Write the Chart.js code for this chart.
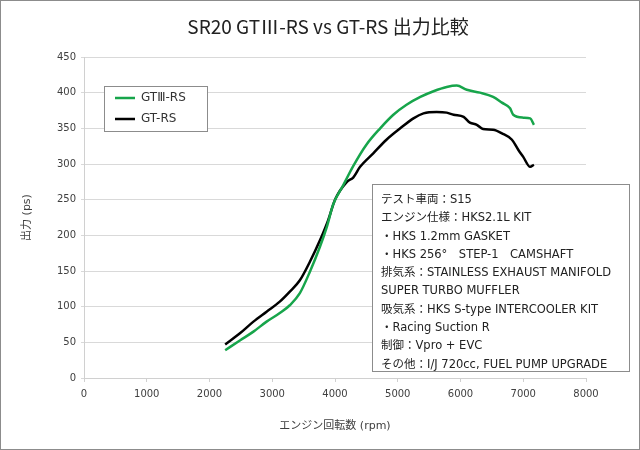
<!DOCTYPE html>
<html>
<head>
<meta charset="utf-8">
<script src="https://cdn.jsdelivr.net/npm/chart.js@4/dist/chart.umd.min.js"></script>
<style>
  html, body { margin: 0; padding: 0; background: #fff; }
  canvas { display: block; }
</style>
</head>
<body>
<canvas id="powerChart" width="640" height="450"></canvas>
<script>
// Readings taken off the dyno sheet (rpm / ps)
const rpmGT3 = [2250, 2490, 2700, 2910, 3120, 3280, 3440, 3600, 3760, 3870, 3970, 4130, 4290, 4500, 4720, 4930, 5140, 5360, 5570, 5780, 5940, 6100, 6310, 6520, 6660, 6790, 6840, 7000, 7110, 7170];
const psGT3  = [39, 53, 65, 79, 91, 102, 119, 149, 184, 212, 243, 270, 297, 327, 350, 369, 383, 394, 402, 408, 410, 404, 400, 394, 386, 378, 369, 365, 364, 355];

const rpmGT = [2250, 2490, 2700, 2910, 3120, 3280, 3440, 3600, 3760, 3890, 4000, 4190, 4290, 4400, 4610, 4820, 5040, 5250, 5410, 5620, 5780, 5890, 6050, 6150, 6260, 6360, 6520, 6660, 6820, 6920, 7000, 7110, 7170];
const psGT  = [47, 63, 79, 93, 107, 121, 137, 163, 193, 221, 250, 275, 281, 296, 315, 334, 350, 364, 371, 373, 372, 369, 366, 358, 355, 349, 348, 343, 334, 320, 310, 296, 299];

const seriesNames = ['GTⅢ-RS', 'GT-RS'];
const seriesColors = ['#17a54b', '#000000'];

const chartTitle = 'SR20 GTⅢ-RS vs GT-RS 出力比較';

const noteLines = [
    'テスト車両：S15',
    'エンジン仕様：HKS2.1L KIT',
    '・HKS 1.2mm GASKET',
    '・HKS 256°　STEP-1　CAMSHAFT',
    '排気系：STAINLESS EXHAUST MANIFOLD',
    'SUPER TURBO MUFFLER',
    '吸気系：HKS S-type INTERCOOLER KIT',
    '・Racing Suction R',
    '制御：Vpro + EVC',
    'その他：I/J 720cc, FUEL PUMP UPGRADE'
];

const baseFont = '"DejaVu Sans", "Noto Sans CJK JP", sans-serif';

function toPoints(xs, ys) {
    return xs.map((x, i) => ({ x: x, y: ys[i] }));
}

// white page, grey frame round the whole chart, and the title
const frame = {
    id: 'frame',
    beforeDraw(chart) {
        const ctx = chart.ctx;
        ctx.save();
        ctx.fillStyle = '#ffffff';
        ctx.fillRect(0, 0, chart.width, chart.height);
        ctx.strokeStyle = '#8c8c8c';
        ctx.lineWidth = 1;
        ctx.strokeRect(0.5, 0.5, chart.width - 1, chart.height - 1);

        ctx.fillStyle = '#222222';
        ctx.font = '19px "Noto Sans CJK JP", "DejaVu Sans", sans-serif';
        ctx.textAlign = 'center';
        ctx.textBaseline = 'middle';
        ctx.fillText(chartTitle, 328, 27);
        ctx.restore();
    }
};

// boxed legend top-left and the spec notes box
const boxes = {
    id: 'boxes',
    afterDraw(chart) {
        const ctx = chart.ctx;
        ctx.save();

        // legend
        ctx.fillStyle = '#ffffff';
        ctx.fillRect(104, 86, 103, 45);
        ctx.strokeStyle = '#8c8c8c';
        ctx.lineWidth = 1;
        ctx.strokeRect(104.5, 86.5, 103, 45);
        ctx.font = '12px ' + baseFont;
        ctx.textBaseline = 'middle';
        chart.data.datasets.forEach((ds, i) => {
            const y = 98 + i * 21;
            ctx.strokeStyle = ds.borderColor;
            ctx.lineWidth = 2.5;
            ctx.beginPath();
            ctx.moveTo(115, y);
            ctx.lineTo(135, y);
            ctx.stroke();
            ctx.fillStyle = '#333333';
            ctx.fillText(ds.label, 141, y);
        });

        // notes
        ctx.fillStyle = '#ffffff';
        ctx.fillRect(372, 184, 257, 187);
        ctx.strokeStyle = '#8c8c8c';
        ctx.lineWidth = 1;
        ctx.strokeRect(372.5, 184.5, 257, 187);
        ctx.fillStyle = '#222222';
        ctx.font = '11.5px ' + baseFont;
        noteLines.forEach((line, i) => {
            ctx.fillText(line, 381, 200 + i * 18.3);
        });
        ctx.restore();
    }
};

new Chart(document.getElementById('powerChart'), {
    type: 'line',
    data: {
        datasets: [
            {
                label: seriesNames[0],
                data: toPoints(rpmGT3, psGT3),
                borderColor: seriesColors[0],
                borderWidth: 2.5,
                pointRadius: 0,
                cubicInterpolationMode: 'monotone',
                fill: false
            },
            {
                label: seriesNames[1],
                data: toPoints(rpmGT, psGT),
                borderColor: seriesColors[1],
                borderWidth: 2.5,
                pointRadius: 0,
                cubicInterpolationMode: 'monotone',
                fill: false
            }
        ]
    },
    options: {
        responsive: false,
        animation: false,
        devicePixelRatio: 1,
        layout: { padding: { left: 0, right: 54, top: 57, bottom: 0 } },
        scales: {
            x: {
                type: 'linear',
                min: 0,
                max: 8000,
                afterFit(scale) { scale.height = 72; },
                ticks: {
                    stepSize: 1000,
                    padding: 6,
                    maxRotation: 0,
                    color: '#404040',
                    font: { family: baseFont, size: 10 },
                    callback: v => String(v)
                },
                grid: {
                    drawOnChartArea: false,
                    drawTicks: true,
                    tickLength: 4,
                    color: '#d0d0d0'
                },
                border: { color: '#d0d0d0' },
                title: {
                    display: true,
                    text: 'エンジン回転数 (rpm)',
                    color: '#404040',
                    font: { family: baseFont, size: 11 },
                    padding: { top: 0, bottom: 17 }
                }
            },
            y: {
                min: 0,
                max: 450,
                afterFit(scale) { scale.width = 84; },
                ticks: {
                    stepSize: 50,
                    padding: 5,
                    color: '#404040',
                    font: { family: baseFont, size: 10 }
                },
                grid: {
                    color: '#d9d9d9',
                    tickLength: 3
                },
                border: { color: '#d0d0d0' },
                title: {
                    display: true,
                    text: '出力 (ps)',
                    color: '#404040',
                    font: { family: baseFont, size: 11 },
                    padding: { top: 21, bottom: 0 }
                }
            }
        },
        plugins: {
            legend: { display: false },
            tooltip: { enabled: false },
            title: { display: false }
        }
    },
    plugins: [frame, boxes]
});
</script>
</body>
</html>
